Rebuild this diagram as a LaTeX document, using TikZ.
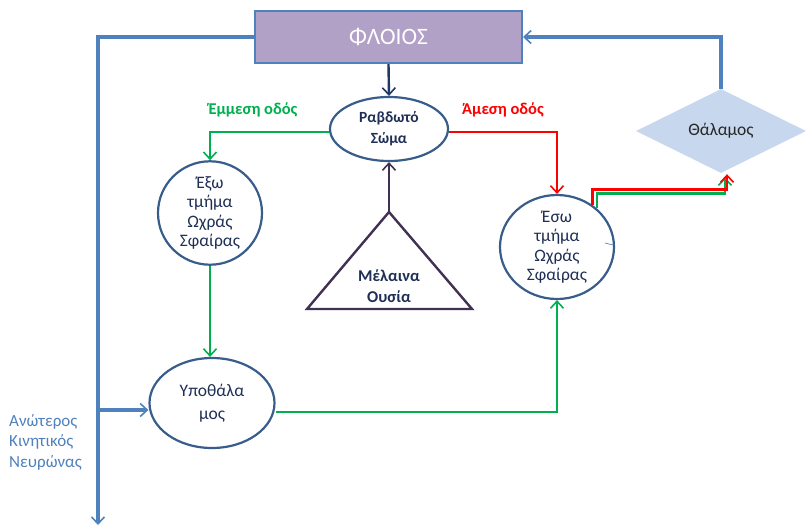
\documentclass[tikz,border=0pt]{standalone}
\usepackage{fontspec}
\setmainfont{Carlito}
\usetikzlibrary{shapes.geometric,arrows.meta,calc}
\definecolor{cblue}{HTML}{4F81BD}
\definecolor{cgreen}{HTML}{00B050}
\definecolor{cred}{HTML}{FF0000}
\definecolor{clav}{HTML}{B2A1C7}
\definecolor{cdia}{HTML}{C6D7EE}
\definecolor{cedge}{HTML}{385D8A}
\definecolor{cnavy}{HTML}{1F3864}
\definecolor{ctri}{HTML}{403152}
\definecolor{ctext}{HTML}{1F2F55}
\tikzset{
  tip/.style={-{Straight Barb[length=7pt,width=13pt,line width=1.6pt]}},
  oval/.style={ellipse,draw=cedge,line width=2.2pt,fill=white,inner sep=0pt,align=center,
    text=ctext,font=\fontsize{17.5}{19.5}\selectfont},
  bluearrow/.style={tip,draw=cblue,line width=3.4pt},
  greenarrow/.style={tip,draw=cgreen,line width=2.6pt},
  redarrow/.style={tip,draw=cred,line width=2.6pt},
  pathlabel/.style={font=\fontsize{16.5}{18}\selectfont\bfseries}
}
\begin{document}
\begin{tikzpicture}[x=1pt,y=-1pt]
\useasboundingbox (0,0) rectangle (807,528);
% nodes
\node[draw=cblue,line width=2pt,fill=clav,minimum width=267pt,minimum height=52pt,inner sep=0pt,
  text=white,font=\fontsize{23.5}{26}\selectfont] (phloios) at (388.5,37) {ΦΛΟΙΟΣ};
\node[oval,minimum width=118pt,minimum height=64pt,font=\fontsize{15.5}{21}\selectfont\bfseries] (ravd) at (389,129) {Ραβδωτό\\Σώμα};
\node[oval,minimum width=104pt,minimum height=100pt] (exo) at (210,213) {Έξω\\τμήμα\\Ωχράς\\Σφαίρας};
\node[oval,minimum width=125pt,minimum height=90pt,font=\fontsize{17.5}{23}\selectfont] (ypo) at (212,403) {Υποθάλα\\μος};
\node[oval,minimum width=114pt,minimum height=104pt] (eso) at (557,247) {Έσω\\τμήμα\\Ωχράς\\Σφαίρας};
\node[diamond,fill=cdia,minimum width=170pt,minimum height=84pt,inner sep=0pt,aspect=2,
  text=black!85,font=\fontsize{17.5}{20}\selectfont] (thal) at (721,131) {Θάλαμος};
% triangle
\coordinate (tapex) at (389,212);
\draw[ctri,line width=2.4pt,line join=miter] (tapex) -- (472,309) -- (307,309) -- cycle;
\node[text=ctext,align=center,font=\fontsize{16.5}{21}\selectfont\bfseries] (mel) at (389,286) {Μέλαινα\\Ουσία};
% labels
\node[pathlabel,text=cgreen] (lem) at (253,110) {Έμμεση οδός};
\node[pathlabel,text=cred] (lam) at (503,110) {Άμεση οδός};
\node[text=cblue,align=left,anchor=west,inner sep=0pt,font=\fontsize{17}{20.5}\selectfont] (motor) at (9,442) {Ανώτερος\\Κινητικός\\Νευρώνας};
% coordinates
\coordinate (bottom) at (98,525);
\coordinate (branch) at (98,410);
% connectors
\draw[tip,draw=cnavy,line width=2.4pt] (phloios.south) -- (ravd.north);
\draw[tip,draw=ctri,line width=2.4pt] (tapex) -- (ravd.south);
\draw[greenarrow] ([yshift=-3pt]ravd.west) -| (exo.north);
\draw[redarrow] ([yshift=-3pt]ravd.east) -| (eso.north);
\draw[greenarrow] (exo.south) -- (exo.south |- ypo.north);
\draw[greenarrow] ([yshift=-9pt]ypo.east) -| (eso.south);
\draw[greenarrow] (eso.44) |- ($(thal.south)+(4,20)$) -- ($(thal.south)+(4,4)$);
\draw[redarrow] (eso.50) |- ($(thal.south)+(6,16)$) -- ($(thal.south)+(6,1)$);
\draw[bluearrow] (thal.north) |- (phloios.east);
\draw[bluearrow] (phloios.west) -| (bottom);
\draw[bluearrow] (branch) -- (branch -| ypo.west);
\draw[cblue,line width=0.7pt] ($(eso.center)+(48,-4)$) -- ($(eso.center)+(56,-2)$);
\end{tikzpicture}
\end{document}
